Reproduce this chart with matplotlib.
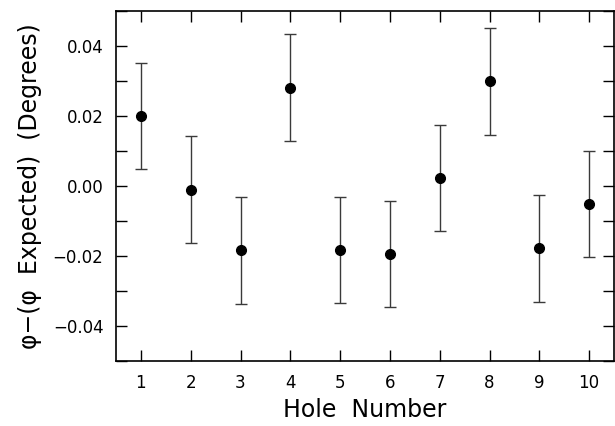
import numpy as np
import matplotlib
matplotlib.use("Agg")
import matplotlib.pyplot as plt
from matplotlib.ticker import MultipleLocator

# Données
trous = [1, 2, 3, 4, 5, 6, 7, 8, 9, 10]
ecart = [0.0200, -0.0010, -0.0184, 0.0281, -0.0183, -0.0195, 0.0023, 0.0299, -0.0178, -0.0052]
erreur = [0.0152, 0.0152, 0.0152, 0.0152, 0.0152, 0.0152, 0.0152, 0.0152, 0.0152, 0.0152]
yticks = [-0.04, -0.02, 0.00, 0.02, 0.04]

plt.rcParams["font.family"] = ["DejaVu Sans"]

fig = plt.figure(figsize=(6.15, 4.26), dpi=100)
ax = fig.add_axes([116 / 615, 1 - 361 / 426, (614 - 116) / 615, (361 - 11) / 426])

ax.errorbar(trous, ecart, yerr=erreur, fmt="o", color="black", ms=7,
            ecolor="#3a3a3a", elinewidth=1.0, capsize=4, capthick=1.0)

ax.set_xlim(0.5, 10.5)
ax.set_ylim(-0.05, 0.05)
ax.set_xticks(trous)
ax.set_yticks(yticks)
ax.set_yticklabels([f"{v:.2f}".replace("-", "\u2212") for v in yticks])
ax.yaxis.set_minor_locator(MultipleLocator(0.01))

ax.tick_params(which="both", direction="in", top=True, right=True,
               labelsize=12, width=1.0, pad=9)
ax.tick_params(which="major", length=8)
ax.tick_params(which="minor", length=8)
for s in ax.spines.values():
    s.set_linewidth(1.2)

ax.set_xlabel("Hole  Number", fontsize=17, labelpad=5)
ax.set_ylabel("\u03c6\u2212(\u03c6  Expected)  (Degrees)", fontsize=17, labelpad=8)

plt.savefig("out.png", dpi=100)
